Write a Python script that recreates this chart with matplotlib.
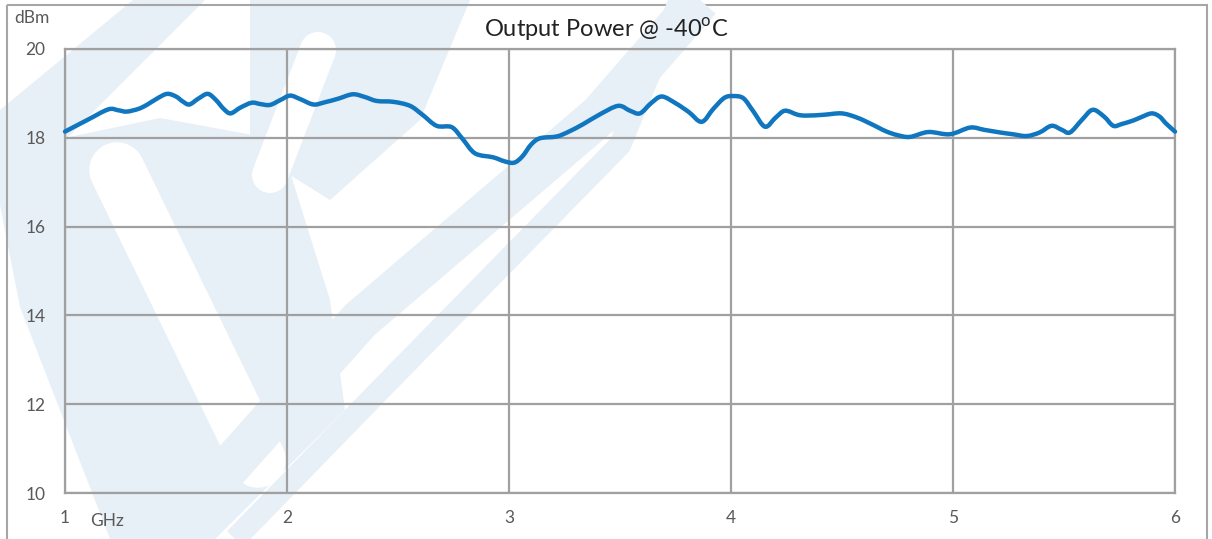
import matplotlib
matplotlib.use("Agg")
import matplotlib.pyplot as plt
import numpy as np
from matplotlib.patches import Polygon, Rectangle, PathPatch
from matplotlib.lines import Line2D
from matplotlib.path import Path

# ---- data ----
freq_ghz = [1.000, 1.10, 1.195, 1.24, 1.278, 1.33, 1.368, 1.42, 1.461, 1.50, 1.53, 1.560,
            1.60, 1.643, 1.68, 1.715, 1.746, 1.79, 1.841, 1.88, 1.923, 1.97, 2.014, 2.06,
            2.119, 2.17, 2.23, 2.296, 2.35, 2.404, 2.479, 2.554, 2.61, 2.674, 2.742, 2.79,
            2.847, 2.929, 2.98, 3.023, 3.06, 3.10, 3.140, 3.215, 3.27, 3.335, 3.41, 3.492,
            3.545, 3.590, 3.64, 3.688, 3.75, 3.81, 3.868, 3.92, 3.97, 4.011, 4.056, 4.10,
            4.153, 4.20, 4.243, 4.30, 4.341, 4.42, 4.498, 4.56, 4.611, 4.66, 4.701, 4.75,
            4.806, 4.889, 4.986, 5.077, 5.14, 5.212, 5.27, 5.332, 5.39, 5.444, 5.49, 5.527,
            5.58, 5.629, 5.68, 5.722, 5.76, 5.812, 5.85, 5.895, 5.93, 5.96, 6.000]
power_dbm = [18.14, 18.40, 18.64, 18.62, 18.59, 18.65, 18.74, 18.90, 18.99, 18.93, 18.82, 18.75,
             18.88, 18.99, 18.85, 18.65, 18.55, 18.68, 18.79, 18.76, 18.74, 18.85, 18.95, 18.87,
             18.75, 18.80, 18.88, 18.98, 18.92, 18.83, 18.81, 18.72, 18.52, 18.27, 18.24, 17.98,
             17.65, 17.56, 17.47, 17.44, 17.58, 17.85, 17.99, 18.03, 18.14, 18.31, 18.53, 18.72,
             18.61, 18.55, 18.78, 18.93, 18.78, 18.58, 18.36, 18.65, 18.90, 18.94, 18.89, 18.60,
             18.25, 18.45, 18.61, 18.52, 18.50, 18.52, 18.55, 18.47, 18.36, 18.24, 18.14, 18.06,
             18.02, 18.13, 18.08, 18.23, 18.18, 18.12, 18.08, 18.04, 18.12, 18.27, 18.18, 18.12,
             18.40, 18.63, 18.48, 18.27, 18.31, 18.39, 18.47, 18.55, 18.48, 18.32, 18.14]
x_ticks = [1, 2, 3, 4, 5, 6]
x_tick_labels = ["1", "2", "3", "4", "5", "6"]
y_ticks = [10, 12, 14, 16, 18, 20]
y_tick_labels = ["10", "12", "14", "16", "18", "20"]
title = "Output Power @ -40$^{\\mathregular{o}}$C"
y_unit = "dBm"
x_unit = "GHz"

plt.rcParams['font.family'] = ['Lato', 'DejaVu Sans']

W, H = 1212, 539
fig = plt.figure(figsize=(W / 100, H / 100), dpi=100)
fig.patch.set_facecolor("white")

# ---- background watermark (pixel coordinates) ----
bg = fig.add_axes([0, 0, 1, 1], zorder=0)
bg.set_xlim(0, W)
bg.set_ylim(H, 0)
bg.axis("off")
wm = "#e7eff7"
bg.add_patch(Polygon([(0, 110), (133, 0), (205, 0), (0, 205)], closed=True, fc=wm, ec="none"))
bg.add_patch(Polygon([(0, 205), (55, 140), (160, 118), (280, 140), (330, 300), (345, 410),
                      (215, 539), (110, 539), (20, 307)], closed=True, fc=wm, ec="none"))
bg.add_line(Line2D([117, 258], [170, 460], color="white", lw=40, solid_capstyle="round"))
bg.add_patch(Polygon([(250, 0), (470, 0), (420, 120), (330, 200), (250, 150)], closed=True, fc=wm, ec="none"))
bg.add_line(Line2D([318, 270], [50, 175], color="white", lw=26, solid_capstyle="round"))
bg.add_line(Line2D([165, 360, 600, 700], [539, 320, 115, 0], color=wm, lw=30, solid_capstyle="butt"))
bg.add_line(Line2D([235, 380, 620, 680], [539, 390, 145, 0], color=wm, lw=16, solid_capstyle="butt"))
bg.add_patch(Rectangle((7, 5), 1200, 560, fill=False, ec="#a6a6a6", lw=1.5))

# ---- main axes ----
ax = fig.add_axes([65 / W, 1 - 493 / H, 1110 / W, 444 / H], zorder=1)
ax.patch.set_alpha(0)
gc = "#a0a0a0"
ax.set_xlim(1, 6)
ax.set_ylim(10, 20)
ax.set_xticks(x_ticks)
ax.set_xticklabels(x_tick_labels)
ax.set_yticks(y_ticks)
ax.set_yticklabels(y_tick_labels)
ax.grid(True, color=gc, lw=1.6)
ax.set_axisbelow(True)
for s in ax.spines.values():
    s.set_color(gc)
    s.set_linewidth(1.6)
ax.tick_params(length=0, colors="#595959", labelsize=12.5, pad=12)
ax.tick_params(axis="y", pad=14)

# smoothed line (Excel-style Bezier smoothing through the data points)
xs = np.asarray(freq_ghz, float)
ys = np.asarray(power_dbm, float)
n = len(xs)
verts = [(xs[0], ys[0])]
codes = [Path.MOVETO]
t = 1.0 / 6.0
for i in range(n - 1):
    p0 = np.array([xs[max(i - 1, 0)], ys[max(i - 1, 0)]])
    p1 = np.array([xs[i], ys[i]])
    p2 = np.array([xs[i + 1], ys[i + 1]])
    p3 = np.array([xs[min(i + 2, n - 1)], ys[min(i + 2, n - 1)]])
    c1 = p1 + (p2 - p0) * t
    c2 = p2 - (p3 - p1) * t
    verts += [tuple(c1), tuple(c2), tuple(p2)]
    codes += [Path.CURVE4, Path.CURVE4, Path.CURVE4]
ax.add_patch(PathPatch(Path(verts, codes), fill=False, ec="#0f76bf", lw=3.2,
                       capstyle="round", joinstyle="round", zorder=3, clip_on=False))

fig.text(606 / W, 1 - 30 / H, title, ha="center", va="center", fontsize=17, color="#222222")
fig.text(32 / W, 1 - 18 / H, y_unit, ha="center", va="center", fontsize=12.5, color="#595959")
ax.text(0.038, -0.062, x_unit, transform=ax.transAxes, ha="center", va="center",
        fontsize=12.5, color="#595959")

fig.savefig("out.png", dpi=100, facecolor="white")
